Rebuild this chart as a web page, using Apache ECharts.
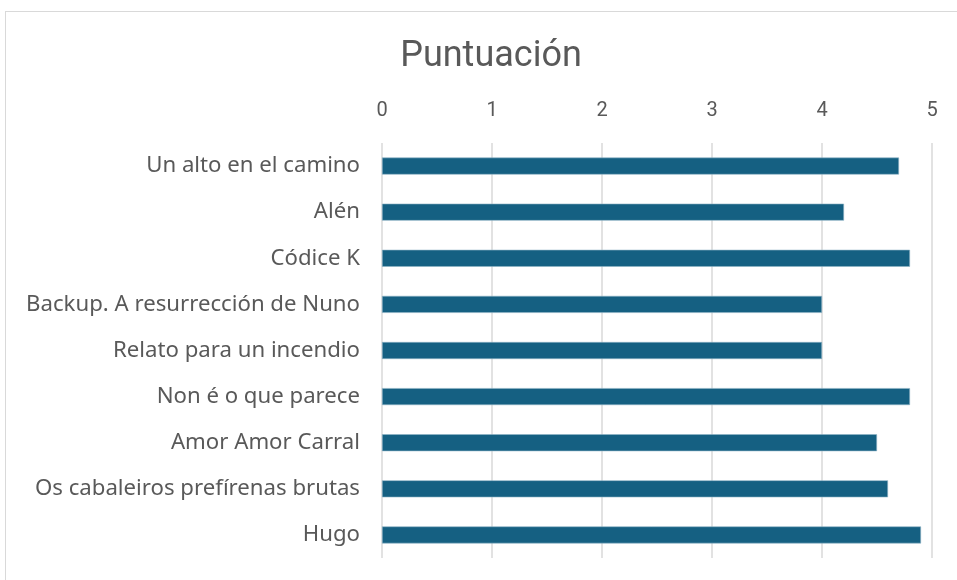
<!DOCTYPE html>
<html>
<head>
<meta charset="utf-8">
<script src="https://cdn.jsdelivr.net/npm/echarts@6/dist/echarts.min.js"></script>
<style>
  html, body { margin: 0; padding: 0; background: #fff; }
  #frame { position: absolute; left: 5px; top: 11px; width: 960px; height: 580px; border: 1px solid #d9d9d9; box-sizing: border-box; }
  #chart { position: absolute; left: 0; top: 0; width: 957px; height: 580px; }
</style>
</head>
<body>
<div id="frame"></div>
<div id="chart"></div>
<script>
"use strict";
// libros y puntuaciones (de arriba abajo)
var books = [
    "Un alto en el camino",
    "Alén",
    "Códice K",
    "Backup. A resurrección de Nuno",
    "Relato para un incendio",
    "Non é o que parece",
    "Amor Amor Carral",
    "Os cabaleiros prefírenas brutas",
    "Hugo"
];
var scores = [4.7, 4.2, 4.8, 4.0, 4.0, 4.8, 4.5, 4.6, 4.9];
var ticks = [0, 1, 2, 3, 4, 5];

var chart = echarts.init(document.getElementById("chart"), null, { renderer: "canvas" });

var option = {
    backgroundColor: "transparent",
    animation: false,
    title: {
        text: "Puntuación",
        left: 486,
        top: 34,
        textAlign: "center",
        textStyle: { fontFamily: "Roboto", fontSize: 36, fontWeight: "normal", color: "#595959" }
    },
    grid: { left: 382, right: 25, top: 143, bottom: 22, containLabel: false },
    xAxis: {
        type: "value",
        position: "top",
        min: ticks[0],
        max: ticks[ticks.length - 1],
        interval: 1,
        axisLine: { show: false },
        axisTick: { show: false },
        axisLabel: { margin: 22, fontFamily: "Roboto", fontSize: 20, color: "#595959" },
        splitLine: { show: true, lineStyle: { color: "#d9d9d9", width: 1.5 } }
    },
    yAxis: {
        type: "category",
        data: books,
        inverse: true,
        axisLine: { show: false },
        axisTick: { show: false },
        axisLabel: { margin: 22, fontFamily: "Noto Sans", fontSize: 22.2, color: "#595959" }
    },
    series: [{
        type: "bar",
        data: scores,
        barWidth: 17,
        itemStyle: { color: "#156082", borderColor: "#8fb3c6", borderWidth: 0.6 }
    }]
};

chart.setOption(option);
</script>
</body>
</html>
